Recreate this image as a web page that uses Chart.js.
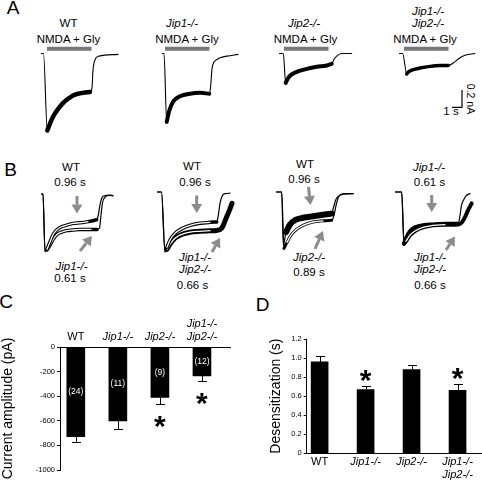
<!DOCTYPE html>
<html>
<head>
<meta charset="utf-8">
<script src="https://cdn.jsdelivr.net/npm/chart.js@4.4.0/dist/chart.umd.min.js"></script>
<style>
html, body { margin: 0; padding: 0; background: #fff; }
#fig { position: relative; width: 482px; height: 483px; overflow: hidden;
       font-family: 'Liberation Sans', Arial, Helvetica, sans-serif; color: #000; }
#fig canvas { position: absolute; }
.t { position: absolute; white-space: nowrap; transform: translate(-50%, -50%);
     font-size: 11.5px; line-height: 1.15; }
.i { font-style: italic; }
.p { font-size: 19px; }
.r { transform: translate(-50%, -50%) rotate(90deg); font-size: 10.5px; }
</style>
</head>
<body>
<div id="fig"></div>
<script>
// ---------- data ----------
// Panel A : raw currents (time in s, current in nA)
const aWT   = [[0,0],[0.25,0],[0.63,-0.90],[0.9,-0.82],[1.2,-0.74],[1.7,-0.65],[2.2,-0.58],[2.7,-0.53],[3.2,-0.49],[3.7,-0.47],[4.2,-0.46],[4.9,-0.45],[5.1,-0.40],[5.2,-0.19],[5.3,-0.11],[5.5,-0.05],[5.8,-0.03],[7.7,-0.01]];
const aJip1 = [[0,0],[0.2,0],[0.47,-0.80],[0.7,-0.68],[1.13,-0.56],[1.8,-0.50],[2.8,-0.47],[3.8,-0.46],[4.73,-0.47],[4.85,-0.40],[5.0,-0.18],[5.2,-0.10],[5.5,-0.07],[5.8,-0.05],[6.5,-0.03],[7.6,-0.01]];
const aJip2 = [[0,0],[0.43,0],[0.67,-0.345],[0.8,-0.31],[1.1,-0.26],[1.77,-0.215],[2.77,-0.18],[3.77,-0.155],[4.77,-0.14],[5.27,-0.12],[5.5,-0.07],[5.77,-0.03],[6.27,0],[7.27,0]];
const aDKO  = [[0,0],[0.37,0],[0.77,-0.24],[0.9,-0.22],[1.27,-0.195],[2.1,-0.17],[3.1,-0.15],[4.1,-0.14],[4.93,-0.14],[5.43,-0.11],[6.1,-0.05],[6.6,-0.02],[7.6,0]];
const aStimOn  = [0.6, 0.3, 0.5, 0.5];
const aStimOff = [5.05, 4.75, 4.95, 4.95];
const aStimLevel = 0.055;
const scaleBar = [[6.3,-0.43],[6.3,-0.63],[5.3,-0.63]];   // 0.2 nA / 1 s

// Panel B : normalised currents
const b1WT   = [[0,0],[0.2,0],[0.4,-0.96],[0.6,-0.92],[0.9,-0.80],[1.2,-0.68],[1.57,-0.60],[2.0,-0.55],[2.57,-0.52],[3.2,-0.49],[3.9,-0.48],[4.7,-0.46],[5.57,-0.43],[5.73,-0.35],[5.9,-0.18],[6.07,-0.07],[6.3,-0.03],[6.9,-0.02],[7.2,-0.025]];
const b1Jip1 = [[0,0],[0.2,0],[0.4,-0.96],[0.6,-0.93],[0.9,-0.85],[1.2,-0.76],[1.57,-0.68],[2.0,-0.64],[2.57,-0.61],[3.2,-0.60],[3.9,-0.59],[5.0,-0.59],[5.6,-0.59],[5.85,-0.57],[6.0,-0.35],[6.15,-0.15],[6.4,-0.05],[6.9,-0.025],[7.2,-0.03]];
const b2WT   = [[0,0],[0.45,0],[0.8,-1.0],[1.0,-0.92],[1.3,-0.80],[1.8,-0.69],[2.5,-0.61],[3.3,-0.555],[4.3,-0.52],[5.3,-0.505],[5.97,-0.50],[6.13,-0.39],[6.3,-0.19],[6.5,-0.07],[6.8,-0.027],[7.3,-0.02]];
const b2DKO  = [[0,0],[0.45,0],[0.8,-1.0],[1.0,-0.955],[1.3,-0.87],[1.8,-0.77],[2.5,-0.705],[3.3,-0.67],[4.3,-0.655],[5.3,-0.645],[5.97,-0.64],[6.47,-0.605],[6.9,-0.44],[7.3,-0.28],[7.5,-0.19]];
const b3Jip2 = [[0,0],[0.57,0],[0.73,-0.89],[1.0,-0.67],[1.4,-0.54],[1.9,-0.47],[2.7,-0.43],[3.7,-0.405],[4.7,-0.38],[5.57,-0.36],[5.73,-0.27],[6.0,-0.12],[6.4,-0.055],[6.9,-0.03],[7.73,-0.027]];
const b3WT   = [[0,0],[0.57,0],[0.8,-0.94],[1.1,-0.84],[1.5,-0.72],[2.0,-0.63],[2.7,-0.555],[3.7,-0.50],[4.7,-0.48],[5.57,-0.47],[5.8,-0.39],[6.05,-0.19],[6.3,-0.07],[6.7,-0.03],[7.73,-0.027]];
const b4Jip1 = [[0,0],[0.67,0],[0.9,-0.86],[1.1,-0.77],[1.5,-0.655],[2.0,-0.59],[2.8,-0.555],[3.8,-0.54],[5.0,-0.53],[6.33,-0.53],[6.5,-0.39],[6.65,-0.22],[6.83,-0.14],[7.1,-0.063],[7.5,-0.027]];
const b4DKO  = [[0,0],[0.67,0],[0.9,-0.86],[1.1,-0.82],[1.5,-0.72],[2.0,-0.65],[2.8,-0.59],[3.8,-0.555],[5.0,-0.545],[6.33,-0.54],[6.7,-0.505],[7.0,-0.42],[7.3,-0.305],[7.67,-0.19]];
// arrows [tail, head] in trace units
const b1Arrows = [[[3.6,-0.033],[3.6,-0.325]], [[3.9,-0.95],[5.1,-0.70]]];
const b2Arrows = [[[3.97,-0.058],[3.97,-0.35]], [[5.5,-1.0],[6.3,-0.767]]];
const b3Arrows = [[[3.25,0.083],[3.45,-0.217]], [[3.9,-0.95],[4.7,-0.65]]];
const b4Arrows = [[[3.67,-0.05],[3.67,-0.333]], [[5.1,-0.967],[6.0,-0.742]]];

// Panels C and D
const groups   = ['WT', 'Jip1-/-', 'Jip2-/-', ['Jip1-/-', 'Jip2-/-']];
const ampMean  = [-730, -600, -410, -235];
const ampErr   = [40, 65, 50, 45];
const ampN     = ['(24)', '(11)', '(9)', '(12)'];
const ampStar  = [false, false, true, true];
const desMean  = [0.96, 0.67, 0.88, 0.66];
const desErr   = [0.06, 0.04, 0.05, 0.07];
const desStar  = [false, true, false, true];

// ---------- text ----------
const texts = [
  ['A', 13, 8, 'p'], ['B', 10.5, 169.5, 'p'], ['C', 6, 302, 'p'], ['D', 262.5, 305, 'p'],
  ['WT', 68.5, 23.5, ''], ['NMDA + Gly', 68.5, 40, ''],
  ['Jip1-/-', 182, 23.5, 'i'], ['NMDA + Gly', 187, 40, ''],
  ['Jip2-/-', 304, 23.5, 'i'], ['NMDA + Gly', 305.5, 40, ''],
  ['Jip1-/-', 428, 11.5, 'i'], ['Jip2-/-', 428, 24, 'i'], ['NMDA + Gly', 425, 40, ''],
  ['1 s', 451, 112, ''], ['0.2 nA', 470.5, 98.5, 'r'],
  ['WT', 71, 167.5, ''], ['0.96 s', 70, 182.5, ''], ['Jip1-/-', 71.5, 266.5, 'i'], ['0.61 s', 70, 279, ''],
  ['WT', 192, 167, ''], ['0.96 s', 195, 182.5, ''], ['Jip1-/-', 195, 258, 'i'], ['Jip2-/-', 195, 269.5, 'i'], ['0.66 s', 192.5, 285.5, ''],
  ['WT', 305, 165, ''], ['0.96 s', 304, 180, ''], ['Jip2-/-', 309, 258, 'i'], ['0.89 s', 309, 272.5, ''],
  ['Jip1-/-', 429, 167.5, 'i'], ['0.61 s', 429.5, 183, ''], ['Jip1-/-', 430, 258, 'i'], ['Jip2-/-', 430, 269.5, 'i'], ['0.66 s', 430, 285.5, '']
];

const fig = document.getElementById('fig');
texts.forEach(([s, x, y, cls]) => {
  const d = document.createElement('div');
  d.className = 't ' + cls;
  d.textContent = s;
  d.style.left = x + 'px';
  d.style.top = y + 'px';
  fig.appendChild(d);
});

Chart.defaults.font.family = "'Liberation Sans', Arial, Helvetica, sans-serif";
Chart.defaults.color = '#000';

// ---------- helpers ----------
const pts = arr => arr.map(p => ({ x: p[0], y: p[1] }));
const part = (arr, a, b) => pts(arr.filter(p => p[0] >= a && p[0] <= b));

function line(data, color, width, smooth = true) {
  return {
    data, borderColor: color, borderWidth: width, pointRadius: 0, fill: false,
    cubicInterpolationMode: smooth ? 'monotone' : 'default', tension: 0,
    borderJoinStyle: 'round', borderCapStyle: smooth ? 'round' : 'butt'
  };
}

function addCanvas(left, top, w, h) {
  const c = document.createElement('canvas');
  c.width = w; c.height = h;
  c.style.left = left + 'px'; c.style.top = top + 'px';
  fig.appendChild(c);
  return c;
}

function arrowPlugin(list) {
  return {
    id: 'arrows',
    afterDatasetsDraw(chart) {
      const { ctx, scales: { x, y } } = chart;
      list.forEach(([from, to]) => {
        const x0 = x.getPixelForValue(from[0]), y0 = y.getPixelForValue(from[1]);
        const x1 = x.getPixelForValue(to[0]), y1 = y.getPixelForValue(to[1]);
        const ang = Math.atan2(y1 - y0, x1 - x0), hl = 9, hw = 5.5;
        const bx = x1 - hl * Math.cos(ang), by = y1 - hl * Math.sin(ang);
        ctx.save();
        ctx.strokeStyle = ctx.fillStyle = '#8c8c8c';
        ctx.lineWidth = 3;
        ctx.beginPath(); ctx.moveTo(x0, y0); ctx.lineTo(bx, by); ctx.stroke();
        ctx.beginPath(); ctx.moveTo(x1, y1);
        ctx.lineTo(bx + hw * Math.sin(ang), by - hw * Math.cos(ang));
        ctx.lineTo(bx - hw * Math.sin(ang), by + hw * Math.cos(ang));
        ctx.closePath(); ctx.fill();
        ctx.restore();
      });
    }
  };
}

// layers are given bottom -> top; Chart.js paints dataset 0 last, so reverse
function traceChart(left, top, w, h, xMax, yMin, yMax, layers, arrows) {
  return new Chart(addCanvas(left, top, w, h), {
    type: 'line',
    data: { datasets: layers.slice().reverse() },
    options: {
      responsive: false, animation: false, events: [], devicePixelRatio: 1,
      layout: { padding: 0 },
      scales: {
        x: { type: 'linear', display: false, min: 0, max: xMax },
        y: { type: 'linear', display: false, min: yMin, max: yMax }
      },
      plugins: { legend: { display: false }, tooltip: { enabled: false } }
    },
    plugins: [arrowPlugin(arrows || [])]
  });
}

// ---------- panel A ----------
const aPanels = [
  { left: 41,  w: 82, trace: aWT,   noise: [0.63, 4.9],  nw: 4.5 },
  { left: 162, w: 80, trace: aJip1, noise: [0.47, 4.73], nw: 4 },
  { left: 279, w: 80, trace: aJip2, noise: [0.67, 5.27], nw: 4 },
  { left: 399, w: 83, trace: aDKO,  noise: [0.77, 4.93], nw: 3.5 }
];
aPanels.forEach((p, i) => {
  const layers = [
    line(pts(p.trace), '#000', 1.1),
    line(part(p.trace, p.noise[0], p.noise[1]), '#000', p.nw),
    line(pts([[aStimOn[i], aStimLevel], [aStimOff[i], aStimLevel]]), '#777', 4, false)
  ];
  if (i === 3) layers.push(line(pts(scaleBar), '#000', 1.2, false));
  traceChart(p.left, 45, p.w, 94, p.w / 10, -1.0, 0.1, layers);
});

// ---------- panel B ----------
function bTrace(tr, n0, n1, nw, fit) {
  const out = [line(pts(tr), '#000', 1.2), line(part(tr, n0, n1), '#000', nw)];
  if (fit) out.push(line(part(tr, fit[0], fit[1]), '#fff', 1.3));
  return out;
}
traceChart(41, 186, 80, 72, 8.0, -1.0667, 0.1333,
  [...bTrace(b1Jip1, 0.5, 5.6, 3.5, [0.6, 5.5]), ...bTrace(b1WT, 0.5, 5.57, 3.5, [0.6, 5.5])], b1Arrows);
traceChart(157, 184, 80, 72, 8.0, -1.0667, 0.1333,
  [...bTrace(b2DKO, 0.9, 7.5, 5, [1.0, 5.9]), ...bTrace(b2WT, 0.9, 5.97, 3.5, [1.0, 5.9])], b2Arrows);
traceChart(276, 184, 82, 72, 8.2, -1.0667, 0.1333,
  [...bTrace(b3Jip2, 0.8, 5.57, 6), ...bTrace(b3WT, 0.8, 5.57, 3, [0.85, 5.5])], b3Arrows);
traceChart(395, 184, 87, 72, 8.7, -1.0667, 0.1333,
  [...bTrace(b4Jip1, 0.9, 6.33, 4), ...bTrace(b4DKO, 0.9, 7.67, 4, [1.0, 6.3])], b4Arrows);

// ---------- panels C, D ----------
function barExtras(err, counts, stars, dir) {
  return {
    id: 'barExtras',
    afterDatasetsDraw(chart) {
      const { ctx } = chart, y = chart.scales.y;
      const vals = chart.data.datasets[0].data;
      chart.getDatasetMeta(0).data.forEach((bar, i) => {
        const v = vals[i].y;
        const x = Math.round(bar.x) + 0.5;
        const yv = y.getPixelForValue(v), ye = Math.round(y.getPixelForValue(v + dir * err[i])) + 0.5;
        ctx.save();
        ctx.strokeStyle = '#000'; ctx.lineWidth = 1;
        ctx.beginPath();
        ctx.moveTo(x, yv); ctx.lineTo(x, ye);
        ctx.moveTo(x - 4.5, ye); ctx.lineTo(x + 4.5, ye);
        ctx.stroke();
        ctx.textAlign = 'center';
        if (counts) {
          ctx.fillStyle = '#fff';
          ctx.font = "8.5px 'Liberation Sans', Arial, sans-serif";
          ctx.textBaseline = 'middle';
          ctx.fillText(counts[i], bar.x, (y.getPixelForValue(0) + yv) / 2);
        }
        if (stars[i]) {
          const cy = ye - dir * 14, size = 30;
          ctx.fillStyle = '#000';
          ctx.font = "bold " + size + "px 'Liberation Sans', Arial, sans-serif";
          ctx.textBaseline = 'alphabetic';
          ctx.fillText('*', bar.x, cy + 0.58 * size);
        }
        ctx.restore();
      });
    }
  };
}

function groupAxis(min, max, position, pad, fitH) {
  return {
    type: 'linear', position, min, max, offset: false,
    grid: { display: false, drawTicks: false },
    border: { display: true, color: '#000', width: 1 },
    afterBuildTicks: s => { s.ticks = groups.map((g, i) => ({ value: i + 1 })); },
    afterFit: s => { s.height = fitH; },
    ticks: {
      autoSkip: false, maxRotation: 0, minRotation: 0, padding: pad,
      callback: v => groups[v - 1],
      font: c => ({ size: 11, style: c.index === 0 ? 'normal' : 'italic' })
    }
  };
}

function valueAxis(min, max, step, title, fitW, fmt) {
  return {
    type: 'linear', min, max,
    afterFit: s => { s.width = fitW; },
    grid: { display: true, drawOnChartArea: false, drawTicks: true, tickLength: 3, color: '#000' },
    border: { display: true, color: '#000', width: 1 },
    ticks: { stepSize: step, font: { size: 7.5 }, padding: 2, callback: fmt },
    title: { display: true, text: title, font: { size: 14 }, padding: 0 }
  };
}

new Chart(addCanvas(0, 300, 240, 183), {
  type: 'bar',
  data: { datasets: [{ data: ampMean.map((v, i) => ({ x: i + 1, y: v })), backgroundColor: '#000', barThickness: 18 }] },
  options: {
    responsive: false, animation: false, events: [], devicePixelRatio: 1,
    layout: { padding: { top: 0, right: 10, bottom: 13, left: 0 } },
    plugins: { legend: { display: false }, tooltip: { enabled: false } },
    scales: {
      x: groupAxis(0.624, 4.667, 'top', 3, 47),
      y: valueAxis(-1000, 0, 200, 'Current amplitude (pA)', 60, v => v)
    }
  },
  plugins: [barExtras(ampErr, ampN, ampStar, -1)]
});

new Chart(addCanvas(268, 330, 214, 153), {
  type: 'bar',
  data: { datasets: [{ data: desMean.map((v, i) => ({ x: i + 1, y: v })), backgroundColor: '#000', barThickness: 17 }] },
  options: {
    responsive: false, animation: false, events: [], devicePixelRatio: 1,
    layout: { padding: { top: 9, right: 0, bottom: 0, left: 0 } },
    plugins: { legend: { display: false }, tooltip: { enabled: false } },
    scales: {
      x: groupAxis(0.719, 4.532, 'bottom', 2, 29.7),
      y: valueAxis(0, 1.2, 0.2, 'Desensitization (s)', 38.7, v => v === 0 ? '0' : v.toFixed(1))
    }
  },
  plugins: [barExtras(desErr, null, desStar, 1)]
});
</script>
</body>
</html>
